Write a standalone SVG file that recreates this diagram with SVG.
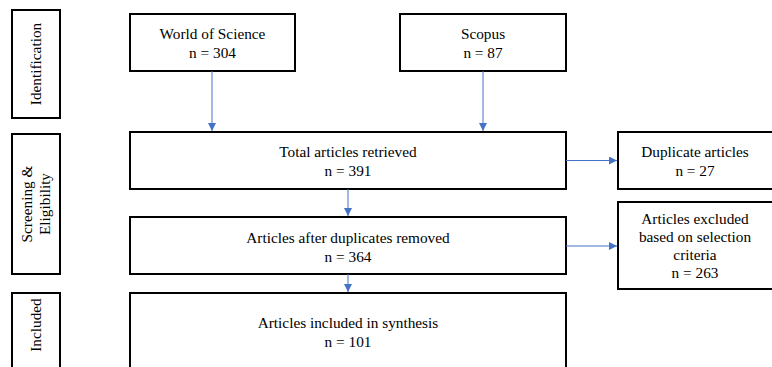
<svg xmlns="http://www.w3.org/2000/svg" width="772" height="367" viewBox="0 0 772 367">
<defs>
<style>
.box{fill:#fff;stroke:#000;stroke-width:2}
.t{font-family:'Liberation Serif','DejaVu Serif',serif;font-size:15.3px;fill:#000;text-anchor:middle}
.c{stroke:#4472C4;stroke-width:1;fill:none;marker-end:url(#ah)}
</style>
<marker id="ah" viewBox="0 0 10 10" refX="10" refY="5" markerWidth="8" markerHeight="8" markerUnits="userSpaceOnUse" orient="auto">
<path d="M0,0 L10,5 L0,10 z" fill="#4472C4"/>
</marker>
</defs>
<rect width="772" height="367" fill="#fff"/>
<g id="stage-identification">
<rect class="box" x="12" y="10" width="48" height="108"/>
<text class="t" transform="translate(41,64) rotate(-90)">Identification</text>
</g>
<g id="stage-screening">
<rect class="box" x="12" y="134" width="48" height="140"/>
<text class="t" transform="translate(32,204) rotate(-90)">Screening &amp;</text>
<text class="t" transform="translate(50,204) rotate(-90)">Eligibility</text>
</g>
<g id="stage-included">
<rect class="box" x="12" y="293" width="48" height="90"/>
<text class="t" transform="translate(41,325) rotate(-90)">Included</text>
</g>
<g id="wos">
<rect class="box" x="130" y="14" width="165" height="57"/>
<text class="t" x="212.5" y="39">World of Science</text>
<text class="t" x="212.5" y="58">n = 304</text>
</g>
<g id="scopus">
<rect class="box" x="400" y="14" width="166" height="57"/>
<text class="t" x="483" y="39">Scopus</text>
<text class="t" x="483" y="58">n = 87</text>
</g>
<g id="total">
<rect class="box" x="130" y="132" width="436" height="57"/>
<text class="t" x="348" y="157">Total articles retrieved</text>
<text class="t" x="348" y="176">n = 391</text>
</g>
<g id="duplicates">
<rect class="box" x="618" y="132" width="160" height="57"/>
<text class="t" x="695" y="157">Duplicate articles</text>
<text class="t" x="695" y="176">n = 27</text>
</g>
<g id="after">
<rect class="box" x="130" y="217" width="436" height="57"/>
<text class="t" x="348" y="243">Articles after duplicates removed</text>
<text class="t" x="348" y="262">n = 364</text>
</g>
<g id="excluded">
<rect class="box" x="618" y="202" width="160" height="87"/>
<text class="t" x="695" y="224">Articles excluded</text>
<text class="t" x="695" y="242">based on selection</text>
<text class="t" x="695" y="260">criteria</text>
<text class="t" x="695" y="278">n = 263</text>
</g>
<g id="included">
<rect class="box" x="130" y="293" width="436" height="90"/>
<text class="t" x="348" y="328">Articles included in synthesis</text>
<text class="t" x="348" y="347">n = 101</text>
</g>
<g id="connectors">
<line class="c" x1="212" y1="71" x2="212" y2="131"/>
<line class="c" x1="483" y1="71" x2="483" y2="131"/>
<line class="c" x1="348" y1="189" x2="348" y2="216"/>
<line class="c" x1="348" y1="274" x2="348" y2="292"/>
<line class="c" x1="566" y1="160.5" x2="617" y2="160.5"/>
<line class="c" x1="566" y1="246" x2="617" y2="246"/>
</g>
</svg>
